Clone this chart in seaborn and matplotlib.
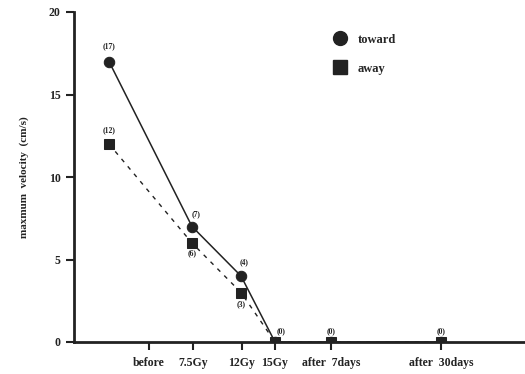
import matplotlib
matplotlib.use("Agg")
import matplotlib.pyplot as plt
import seaborn as sns
from matplotlib.lines import Line2D

# data
tick_labels = ["before", "7.5Gy", "12Gy", "15Gy", "after  7days", "after  30days"]
tick_pos = [75, 119, 168, 201, 257, 367]
point_x = [35, 118, 167, 201, 257, 367]
toward = [17, 7, 4, 0, 0, 0]
away = [12, 6, 3, 0, 0, 0]
toward_labels = ["(17)", "(7)", "(4)", "(0)", "(0)", "(0)"]
away_labels = ["(12)", "(6)", "(3)", "", "", ""]

sns.set_style("ticks")
plt.rcParams["font.family"] = ["Liberation Serif", "DejaVu Serif"]
plt.rcParams["font.weight"] = "bold"

fig = plt.figure(figsize=(5.25, 3.74), dpi=100)
ax = fig.add_axes([74 / 525, 32 / 374, 451 / 525, 330 / 374])

ink = "#222222"
sns.lineplot(x=point_x, y=away, ax=ax, color=ink, linewidth=1, linestyle=(0, (3, 4)),
             marker="s", markersize=6.5, markeredgecolor=ink, markerfacecolor=ink)
sns.lineplot(x=point_x, y=toward, ax=ax, color=ink, linewidth=1.1,
             marker="o", markersize=7.5, markeredgecolor=ink, markerfacecolor=ink)

# counts next to the points
toward_off = [(0, 15), (4, 12), (3, 14), (6, 11), (0, 11), (0, 11)]
away_off = [(0, 14), (0, -10), (0, -12)]
for x, y, s, o in zip(point_x, toward, toward_labels, toward_off):
    ax.annotate(s, (x, y), xytext=o, textcoords="offset pixels", ha="center",
                va="center", fontsize=5.5, fontweight="bold", color=ink)
for x, y, s, o in zip(point_x, away, away_labels, away_off):
    ax.annotate(s, (x, y), xytext=o, textcoords="offset pixels", ha="center",
                va="center", fontsize=5.5, fontweight="bold", color=ink)

ax.set_xlim(0, 451)
ax.set_ylim(0, 20)
ax.set_yticks([0, 5, 10, 15, 20])
ax.set_xticks(tick_pos)
ax.set_xticklabels(tick_labels)
ax.tick_params(axis="both", width=1.5, length=6, color=ink, labelsize=8.5, labelcolor=ink)
ax.tick_params(axis="x", pad=5)
for t in ax.get_xticklabels() + ax.get_yticklabels():
    t.set_fontweight("bold")
ax.set_ylabel("maxmum  velocity  (cm/s)", fontsize=8, fontweight="bold", color=ink, labelpad=14)

sns.despine(ax=ax)
for side in ["left", "bottom"]:
    ax.spines[side].set_linewidth(2)
    ax.spines[side].set_color(ink)
    ax.spines[side].set_clip_on(False)

handles = [
    Line2D([], [], linestyle="none", marker="o", markersize=10, color=ink),
    Line2D([], [], linestyle="none", marker="s", markersize=10, color=ink),
]
ax.legend(handles, ["toward", "away"], loc="upper left", bbox_to_anchor=(0.537, 0.968),
          frameon=False, prop={"weight": "bold", "size": 9}, labelspacing=1.35,
          handletextpad=0.4)

fig.savefig("out.png", dpi=100)
